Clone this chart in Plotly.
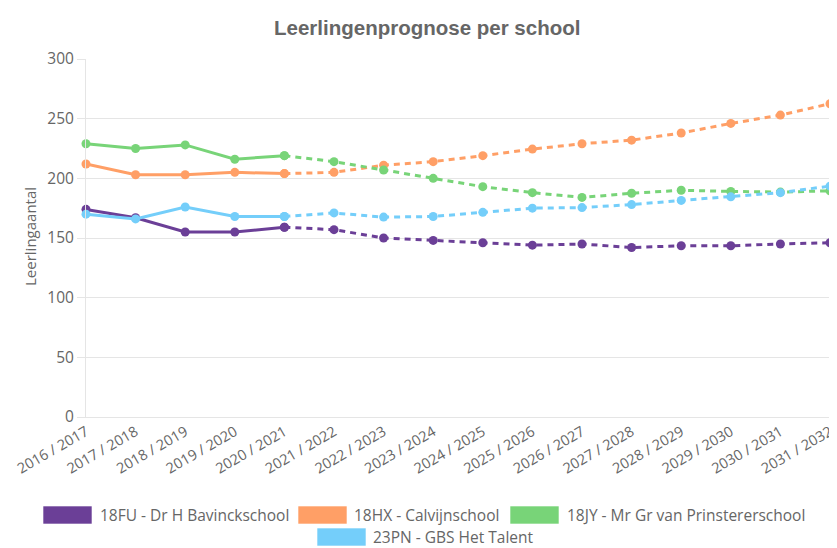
import plotly.graph_objects as go

years = ["2016 / 2017", "2017 / 2018", "2018 / 2019", "2019 / 2020", "2020 / 2021",
         "2021 / 2022", "2022 / 2023", "2023 / 2024", "2024 / 2025", "2025 / 2026",
         "2026 / 2027", "2027 / 2028", "2028 / 2029", "2029 / 2030", "2030 / 2031",
         "2031 / 2032"]
last_actual = 4  # index of last realised year (2020 / 2021)

names = ["18FU - Dr H Bavinckschool", "18HX - Calvijnschool",
         "18JY - Mr Gr van Prinstererschool", "23PN - GBS Het Talent"]
colors = ["#6b3f97", "#ff9f66", "#78d478", "#74cefa"]

bavinck = [174, 167, 155, 155, 159, 157, 150, 148, 146, 144, 145, 142, 143.5, 143.5, 145, 146]
calvijn = [212, 203, 203, 205, 204, 205, 211, 214, 219, 224.5, 229, 232, 238, 246, 253, 262.5]
prinsterer = [229, 225, 228, 216, 219, 214, 207, 200, 193, 188, 184, 187.5, 190, 189, 188.5, 189.5]
talent = [170, 166, 176, 168, 168, 171, 167.5, 168, 171.5, 175, 175.5, 178, 181.5, 184.5, 188, 193.5]
series = [bavinck, calvijn, prinsterer, talent]

# page has an 8px body margin; compensate so the plot lands where the reference has it
OFF = 8
W, H = 837 - OFF, 548 - OFF
L, R, T, B = 86 - OFF, 830 - OFF, 59 - OFF, 417 - OFF

fig = go.Figure()
for name, col, vals in zip(names, colors, series):
    fig.add_trace(go.Scatter(
        x=years[:last_actual + 1], y=vals[:last_actual + 1], name=name,
        mode="lines+markers", line=dict(color=col, width=3),
        marker=dict(color=col, size=9), showlegend=False, cliponaxis=False))
    fig.add_trace(go.Scatter(
        x=years[last_actual:], y=vals[last_actual:], name=name + " (prognose)",
        mode="lines+markers", line=dict(color=col, width=3, dash="6px,5px"),
        marker=dict(color=col, size=9), showlegend=False, cliponaxis=False))

def px(xp):
    return (xp - OFF - L) / (R - L)

def py(yp):
    return (B - (yp - OFF)) / (B - T)

shapes = []
annotations = []
legend_items = [  # box left x, box top y, text x (window pixels)
    (43, 506, 99), (298, 506, 353), (510, 506, 566), (317, 528, 372)]
for (bx, by, tx), name, col in zip(legend_items, names, colors):
    shapes.append(dict(type="rect", xref="paper", yref="paper",
                       x0=px(bx), x1=px(bx + 49), y0=py(by + 18), y1=py(by),
                       fillcolor=col, line=dict(color="rgba(255,255,255,0.6)", width=1)))
    annotations.append(dict(text=name, xref="paper", yref="paper", x=px(tx), y=py(by + 9),
                            xanchor="left", yanchor="middle", showarrow=False, borderpad=0,
                            font=dict(family="Open Sans, sans-serif", size=15.5, color="#666")))

annotations.append(dict(text="<b>Leerlingenprognose per school</b>", xref="paper", yref="paper",
                        x=px(427), y=py(27), xanchor="center", yanchor="middle", showarrow=False,
                        font=dict(family="Liberation Sans, Arial, sans-serif", size=20.5, color="#666")))

annotations.append(dict(text="Leerlingaantal", xref="paper", yref="paper",
                        x=px(30), y=py(237), xanchor="center", yanchor="middle", showarrow=False,
                        textangle=-90,
                        font=dict(family="Open Sans, sans-serif", size=15, color="#666")))

fig.update_layout(
    width=W, height=H,
    margin=dict(l=L, r=W - R, t=T, b=H - B, pad=0, autoexpand=False),
    paper_bgcolor="white", plot_bgcolor="white",
    shapes=shapes, annotations=annotations,
    font=dict(family="Open Sans, sans-serif", color="#666"),
)
fig.update_xaxes(
    type="category", range=[0, len(years) - 1], showgrid=False, automargin=False,
    showline=True, linecolor="#e5e5e5", linewidth=1, mirror=False,
    ticks="", tickangle=-30, tickfont=dict(size=14.5, color="#666"),
    zeroline=False,
)
fig.update_yaxes(
    range=[0, 300], dtick=50, showgrid=True, gridcolor="#e5e5e5", gridwidth=1,
    automargin=False,
    showline=True, linecolor="#e5e5e5", ticks="outside", ticklen=8, tickcolor="#e5e5e5",
    tickfont=dict(size=15.5, color="#666"), zeroline=False,
)

fig.write_html("out.html")
